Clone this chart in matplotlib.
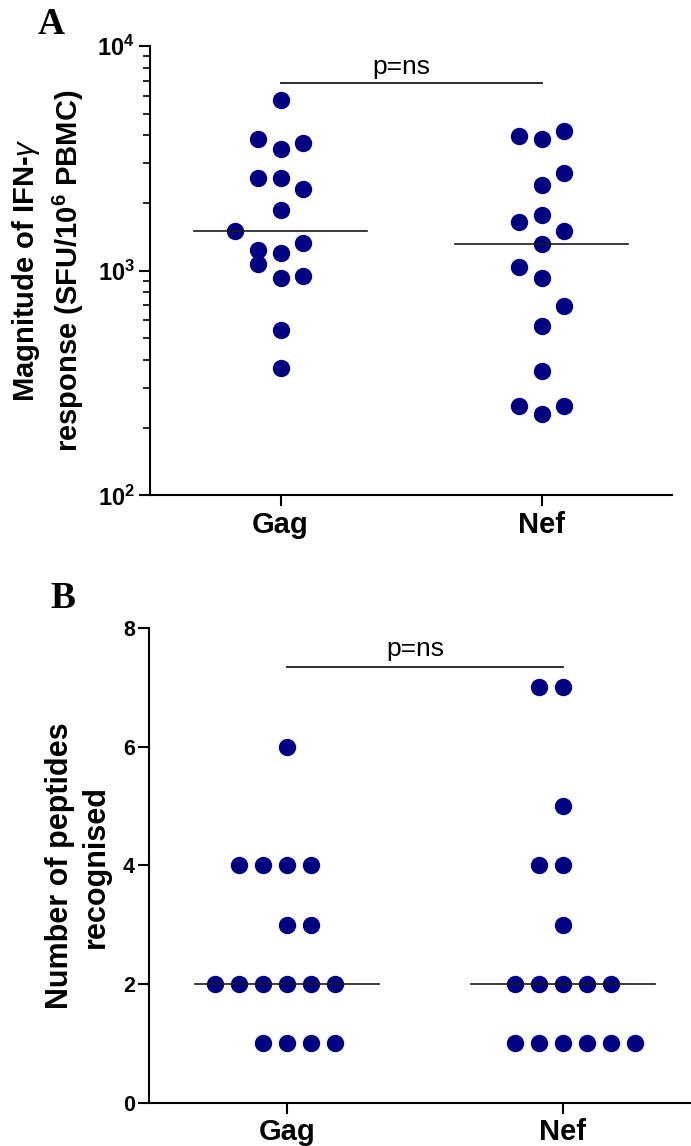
import numpy as np
import matplotlib
matplotlib.use('Agg')
import matplotlib.pyplot as plt
from matplotlib.ticker import LogLocator, NullFormatter

plt.rcParams['font.family'] = ['Liberation Sans', 'DejaVu Sans']
plt.rcParams['mathtext.fontset'] = 'custom'
plt.rcParams['mathtext.rm'] = 'Liberation Sans'
plt.rcParams['mathtext.bf'] = 'Liberation Sans:bold'
plt.rcParams['mathtext.it'] = 'Liberation Sans:italic'

groups = ['Gag', 'Nef']

# IFN-gamma response magnitude (SFU / 10^6 PBMC)
gag_sfu = [5770, 3850, 3470, 3710, 2590, 2590, 2300, 1860, 1505,
           1330, 1234, 1197, 1066, 929, 946, 547, 368]
nef_sfu = [3970, 3865, 4180, 2718, 2396, 1767, 1640, 1494, 1317,
           1037, 926, 697, 566, 359, 249, 229, 249]

# number of peptides recognised
gag_peptides = [6, 4, 4, 4, 4, 3, 3, 2, 2, 2, 2, 2, 2, 1, 1, 1, 1]
nef_peptides = [7, 7, 5, 4, 4, 3, 2, 2, 2, 2, 2, 1, 1, 1, 1, 1, 1]

# column slot of each dot so overlapping points sit side by side
gag_sfu_cols = [0, -1, 0, 1, -1, 0, 1, 0, -2, 1, -1, 0, -1, 0, 1, 0, 0]
nef_sfu_cols = [-1, 0, 1, 1, 0, 0, -1, 1, 0, -1, 0, 1, 0, 0, -1, 0, 1]
gag_pep_cols = [0, -2, -1, 0, 1, 0, 1, -3, -2, -1, 0, 1, 2, -1, 0, 1, 2]
nef_pep_cols = [-1, 0, 0, -1, 0, 0, -2, -1, 0, 1, 2, -2, -1, 0, 1, 2, 3]

navy = '#000080'
W, H = 691, 1146


def dot_panel(ax, series, cols, step=0.087):
    for i, (vals, slots) in enumerate(zip(series, cols)):
        xc = i + 1
        xs = xc + step * np.array(slots)
        ax.plot(xs, vals, 'o', ms=11.5, color=navy, mec=navy, ls='none',
                zorder=2, clip_on=False)
        med = np.median(vals)
        ax.plot([xc - 0.333, xc + 0.333], [med, med], color='#1a1a1a',
                lw=1.2, zorder=3)
    ax.spines['top'].set_visible(False)
    ax.spines['right'].set_visible(False)
    for s in ('left', 'bottom'):
        ax.spines[s].set_linewidth(1.5)
    ax.tick_params(which='major', length=8, width=1.5, direction='out')
    ax.tick_params(which='minor', length=5, width=1.2, direction='out')
    ax.set_xticks([1, 2])
    ax.set_xticklabels(groups, fontsize=21, fontweight='bold')
    ax.tick_params(axis='x', pad=3)


fig = plt.figure(figsize=(W / 100, H / 100), dpi=100)

# panel A: response magnitude, log scale
axA = fig.add_axes([150 / W, 1 - 495.3 / H, 522 / W, 449.3 / H])
dot_panel(axA, [gag_sfu, nef_sfu], [gag_sfu_cols, nef_sfu_cols])
axA.set_yscale('log')
axA.set_ylim(100, 10000)
axA.set_xlim(0.5, 2.5)
axA.set_yticks([100, 1000, 10000])
axA.set_yticklabels([r'$\mathbf{10^{2}}$', r'$\mathbf{10^{3}}$', r'$\mathbf{10^{4}}$'],
                    fontsize=17)
axA.yaxis.set_minor_locator(LogLocator(base=10, subs=np.arange(2, 10)))
axA.yaxis.set_minor_formatter(NullFormatter())
axA.tick_params(axis='y', pad=3)
axA.plot([1, 2], [6840, 6840], color='#1a1a1a', lw=1.3)
axA.text(1.464, 7500, 'p=ns', ha='center', va='baseline', fontsize=19)

# panel B: peptides recognised
axB = fig.add_axes([149 / W, 1 - 1102.7 / H, 542 / W, 474.7 / H])
dot_panel(axB, [gag_peptides, nef_peptides], [gag_pep_cols, nef_pep_cols])
axB.set_ylim(0, 8)
axB.set_xlim(0.5, 2.464)
axB.set_yticks([0, 2, 4, 6, 8])
axB.set_yticklabels(['0', '2', '4', '6', '8'], fontsize=15.5, fontweight='bold')
axB.tick_params(axis='y', pad=2)
axB.plot([1, 2], [7.35, 7.35], color='#1a1a1a', lw=1.3)
axB.text(1.464, 7.52, 'p=ns', ha='center', va='baseline', fontsize=19)

# axis titles
fig.text(48 / W, 1 - 270.5 / H,
         'Magnitude of IFN-$\\gamma$\nresponse (SFU/10$^{\\mathbf{6}}$ PBMC)',
         rotation=90, ha='center', va='center', fontsize=21, fontweight='bold',
         linespacing=1.35, multialignment='center')
fig.text(78 / W, 1 - 866 / H, 'Number of peptides\nrecognised',
         rotation=90, ha='center', va='center', fontsize=22, fontweight='bold',
         linespacing=1.25, multialignment='center')

# panel letters
fig.text(51 / W, 1 - 24 / H, 'A', family='Liberation Serif', fontweight='bold',
         fontsize=27, ha='center', va='center')
fig.text(63 / W, 1 - 598 / H, 'B', family='Liberation Serif', fontweight='bold',
         fontsize=27, ha='center', va='center')

fig.savefig('out.png', dpi=100)
